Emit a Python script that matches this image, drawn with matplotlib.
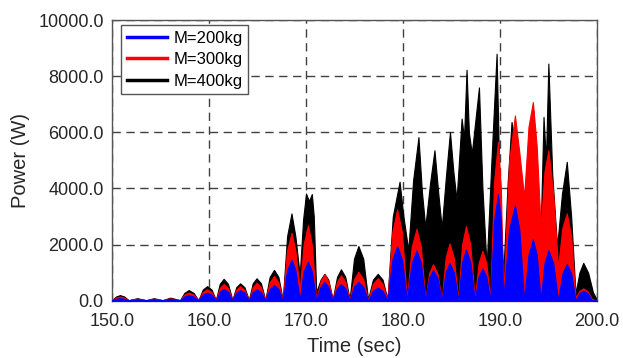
import matplotlib
matplotlib.use("Agg")
import matplotlib.pyplot as plt
from matplotlib.lines import Line2D

plt.rcParams["font.family"] = ["Liberation Sans", "DejaVu Sans"]

# envelope of the power signal (time in s, power in W)
# blue and red share the same wave-group timing
t_rb = [
    150.0, 150.4, 150.8, 151.25,
    151.7, 152.15, 152.6, 153.05,
    153.5, 153.9, 154.3, 154.75,
    155.2, 155.6, 156.0, 156.5,
    157.0, 157.45, 157.9, 158.4,
    158.9, 159.35, 159.8, 160.25,
    160.7, 161.1, 161.5, 161.95,
    162.4, 162.8, 163.2, 163.65,
    164.1, 164.5, 164.9, 165.35,
    165.8, 166.25, 166.7, 167.15,
    167.6, 168.05, 168.5, 168.9,
    169.35, 169.75, 170.2, 170.6,
    171.05, 171.5, 171.9, 172.3,
    172.75, 173.2, 173.6, 174.05,
    174.5, 174.95, 175.4, 175.9,
    176.4, 176.9, 177.4, 177.9,
    178.4, 178.9, 179.4, 179.9,
    180.4, 180.9, 181.4, 181.85,
    182.3, 182.7, 183.1, 183.55,
    184.0, 184.4, 184.8, 185.25,
    185.7, 186.1, 186.5, 186.95,
    187.4, 187.8, 188.2, 188.6,
    189.0, 189.4, 189.8, 190.1,
    190.35, 190.95, 191.55, 192.0,
    192.5, 192.95, 193.4, 193.8,
    194.2, 194.6, 195.0, 195.5,
    196.0, 196.45, 196.9, 197.35,
    197.8, 198.2, 198.6, 199.05,
    199.5, 200.0]

p_200 = [
    20, 70, 90, 70,
    10, 35, 50, 35,
    10, 35, 50, 35,
    10, 45, 60, 45,
    10, 150, 200, 150,
    10, 220, 290, 220,
    10, 320, 420, 320,
    10, 290, 380, 290,
    10, 310, 410, 310,
    10, 420, 560, 420,
    10, 1100, 1470, 1100,
    30, 1050, 1390, 1050,
    10, 500, 670, 500,
    10, 450, 600, 450,
    10, 500, 670, 500,
    10, 350, 470, 350,
    10, 1460, 1950, 1460,
    10, 1350, 1800, 1350,
    10, 820, 1100, 820,
    10, 1010, 1350, 1010,
    10, 1370, 1830, 1370,
    10, 860, 1150, 860,
    10, 2850, 3800, 2850,
    10, 2550, 3400, 2550,
    10, 1640, 2190, 1640,
    10, 1350, 1800, 1350,
    10, 980, 1310, 980,
    10, 270, 360, 270,
    10, 0]

p_300 = [
    30, 110, 150, 110,
    20, 50, 70, 50,
    20, 50, 70, 50,
    20, 60, 80, 60,
    20, 220, 290, 220,
    20, 310, 410, 310,
    20, 450, 600, 450,
    20, 390, 520, 390,
    20, 480, 640, 480,
    20, 660, 880, 660,
    20, 1800, 2420, 1800,
    400, 2000, 2690, 2000,
    20, 700, 940, 700,
    20, 680, 910, 680,
    20, 770, 1030, 770,
    20, 600, 800, 600,
    20, 2440, 3250, 2440,
    20, 1920, 2560, 1920,
    20, 980, 1300, 980,
    20, 1530, 2040, 1530,
    20, 2000, 2660, 2000,
    20, 1340, 1780, 1340,
    20, 4250, 5660, 4000,
    100, 4950, 6600, 5300,
    3700, 6200, 7080, 5500,
    2630, 4600, 5360, 3800,
    1210, 2600, 3110, 2300,
    100, 350, 440, 330,
    60, 0]

t_400 = [
    150.0, 150.4, 150.8, 151.25, 151.7, 152.6, 153.5, 154.3, 155.2, 156.0,
    157.0, 157.45, 157.9, 158.4, 158.9, 159.35, 159.8, 160.25, 160.7, 161.1,
    161.5, 161.95, 162.4, 162.8, 163.2, 163.65, 164.1, 164.5, 164.9, 165.35,
    165.8, 166.25, 166.7, 167.15, 167.6, 168.05, 168.5, 168.9, 169.35, 169.7,
    170.0, 170.3, 170.6, 170.8, 171.05, 171.5, 171.9, 172.3, 172.75, 173.2,
    173.6, 174.05, 174.5, 174.95, 175.4, 175.9, 176.4, 176.9, 177.4, 177.9,
    178.4, 178.95, 179.65, 180.05, 180.55, 181.05, 181.6, 181.95, 182.3, 182.8,
    183.25, 183.65, 184.0, 184.45, 184.85, 185.2, 185.53, 186.05, 186.3, 186.56,
    186.8, 187.1, 187.84, 188.2, 188.63, 189.1, 189.66, 190.0, 190.35, 190.8,
    191.2, 191.6, 192.5, 193.0, 193.45, 193.8, 194.2, 194.5, 194.75, 195.0,
    195.4, 195.9, 196.4, 196.9, 197.35, 197.8, 198.2, 198.6, 199.1, 199.6,
    200.0]

p_400 = [
    30, 150, 200, 150, 20, 90, 20, 90, 20, 110,
    20, 280, 380, 280, 20, 400, 520, 400, 30, 600,
    780, 600, 30, 480, 620, 480, 30, 620, 800, 620,
    30, 850, 1100, 850, 30, 2300, 3110, 2300, 900, 2900,
    3820, 3550, 3800, 3000, 300, 750, 960, 750, 50, 850,
    1120, 850, 50, 1500, 1950, 1500, 50, 750, 960, 750,
    50, 3000, 4240, 3000, 1800, 4300, 5830, 3900, 2630, 4200,
    5360, 3800, 2600, 4500, 6010, 4600, 3600, 6490, 5800, 8230,
    6000, 5250, 7600, 4000, 1210, 4800, 8800, 3500, 980, 4200,
    6370, 5500, 3500, 5800, 6790, 4000, 2400, 6550, 5000, 8450,
    4500, 1920, 3800, 4950, 3000, 260, 1000, 1350, 1000, 300,
    40]

labels = ["M=200kg", "M=300kg", "M=400kg"]
colors = ["#0000ff", "#ff0000", "#000000"]

x_ticks = [150, 160, 170, 180, 190, 200]
y_ticks = [0, 2000, 4000, 6000, 8000, 10000]

fig = plt.figure(figsize=(6.23, 3.58), dpi=100)
ax = fig.add_axes([0.18, 0.16, 0.778, 0.784])

# heaviest mass at the back
ax.fill_between(t_400, 0, p_400, color=colors[2], lw=0.8, zorder=2)
ax.fill_between(t_rb, 0, p_300, color=colors[1], lw=0.8, zorder=3)
ax.fill_between(t_rb, 0, p_200, color=colors[0], lw=0.8, zorder=4)
ax.plot([150, 200], [0, 0], color=colors[0], lw=1.2, zorder=5)

ax.set_xlim(150, 200)
ax.set_ylim(0, 10000)
ax.set_xticks(x_ticks)
ax.set_yticks(y_ticks)
ax.set_xticklabels([f"{v:.1f}" for v in x_ticks])
ax.set_yticklabels([f"{v:.1f}" for v in y_ticks])
ax.tick_params(length=0, labelsize=13, colors="#262626")
ax.tick_params(axis="x", pad=9)
ax.tick_params(axis="y", pad=6)

ax.grid(True, ls=(0, (6, 4)), color="#404040", lw=1.0, zorder=1)
ax.set_axisbelow(True)
for s in ax.spines.values():
    s.set_color("#555555")
    s.set_linewidth(1.0)

ax.set_xlabel("Time (sec)", fontsize=14.5, color="#262626", labelpad=5)
ax.set_ylabel("Power (W)", fontsize=14.5, color="#262626", labelpad=6)

handles = [Line2D([0], [0], color=c, lw=2.5) for c in colors]
leg = ax.legend(handles, labels, loc="upper left", bbox_to_anchor=(0.018, 0.982),
                fontsize=12, handlelength=2.4, handletextpad=0.4,
                labelspacing=0.38, borderpad=0.35, fancybox=False,
                framealpha=1, borderaxespad=0)
leg.get_frame().set_edgecolor("#555555")
leg.get_frame().set_linewidth(1.0)
leg.set_zorder(10)

fig.savefig("out.png", dpi=100)
